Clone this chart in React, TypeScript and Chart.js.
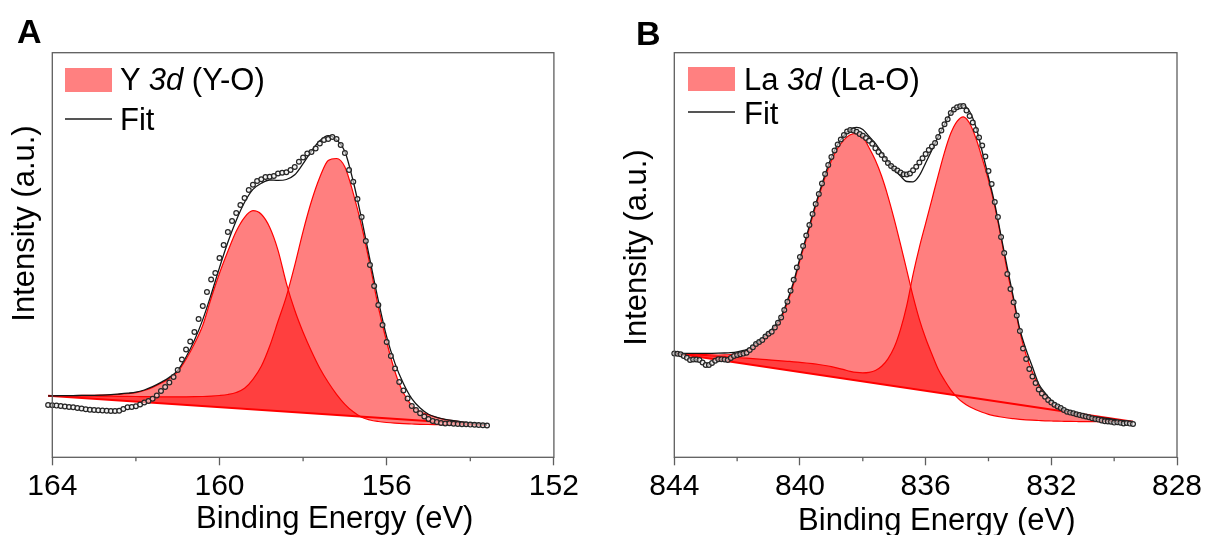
import React, { useEffect, useRef } from 'react';
import { Chart, registerables } from 'chart.js';

Chart.register(...registerables);

const FONT = "'Liberation Sans', Arial, Helvetica, sans-serif";

// ---------------- Panel A : Y 3d ----------------
const A_dataBE = [164.1,164.0,163.9,163.8,163.7,163.6,163.5,163.4,163.3,163.2,
163.1,163.0,162.9,162.8,162.7,162.6,162.5,162.4,162.3,162.2,
162.1,162.0,161.9,161.8,161.7,161.6,161.5,161.4,161.3,161.2,
161.1,161.0,160.9,160.8,160.7,160.6,160.5,160.4,160.3,160.2,
160.1,160.0,159.9,159.8,159.7,159.6,159.5,159.4,159.3,159.2,
159.1,159.0,158.9,158.8,158.7,158.6,158.5,158.4,158.3,158.2,
158.1,158.0,157.9,157.8,157.7,157.6,157.5,157.4,157.3,157.2,
157.1,157.0,156.9,156.8,156.7,156.6,156.5,156.4,156.3,156.2,
156.1,156.0,155.9,155.8,155.7,155.6,155.5,155.4,155.3,155.2,
155.1,155.0,154.9,154.8,154.7,154.6,154.5,154.4,154.3,154.2,
154.1,154.0,153.9,153.8,153.7,153.6];
const A_dataCounts = [52.3,52.1,51.7,51.3,50.8,50.3,50.0,49.3,48.8,48.1,
47.6,47.3,47.0,46.8,46.6,46.3,46.3,46.6,48.3,50.0,
50.3,51.1,52.8,54.8,56.3,58.6,61.8,66.3,70.3,74.8,
80.3,87.3,97.8,107.8,115.8,125.3,138.3,151.3,165.3,177.8,
184.3,199.3,212.3,225.3,236.3,244.3,252.3,259.3,267.3,272.6,
276.3,278.0,280.3,280.6,281.3,283.8,284.5,285.0,287.3,290.3,
295.5,299.8,303.8,305.3,308.8,313.8,317.3,318.3,320.3,318.3,
312.3,304.3,287.3,275.6,258.3,240.3,216.3,192.3,171.3,152.3,
132.3,115.3,101.3,88.8,75.3,66.8,58.8,51.3,47.3,44.0,
40.8,38.3,36.3,35.3,34.3,33.8,34.0,33.5,33.3,33.1,
33.0,32.7,32.5,32.3,32.1,31.8];

const A_curveBE = [164.1,164.0,163.8,163.6,163.4,163.2,163.0,162.8,162.6,162.4,
162.2,162.0,161.8,161.6,161.4,161.2,161.0,160.8,160.6,160.4,
160.2,160.0,159.8,159.6,159.4,159.2,159.0,158.8,158.6,158.4,
158.2,158.0,157.8,157.6,157.4,157.2,157.0,156.8,156.6,156.4,
156.2,156.0,155.8,155.6,155.4,155.2,155.0,154.8,154.6,154.4,
154.2,154.0,153.8,153.6];
const A_fit = [61.5,61.5,61.6,61.7,61.8,61.9,62.0,62.2,62.6,63.3,
64.1,65.1,67.3,70.6,74.9,79.9,86.9,100.3,117.0,137.7,
162.8,189.7,215.0,236.8,255.0,267.9,274.0,277.3,276.9,277.8,
282.5,293.7,306.3,316.5,321.6,317.5,305.8,275.8,238.3,197.3,
156.7,120.4,93.7,73.8,58.6,49.2,43.0,40.0,38.0,36.6,
35.4,34.4,33.5,32.6];
const A_peak1 = [61.5,61.5,61.6,61.7,61.8,61.9,62.0,62.2,62.4,62.9,
63.6,64.7,66.8,69.9,74.0,78.8,85.5,98.0,113.5,132.0,
159.0,184.0,206.0,226.0,240.0,246.6,243.0,230.0,207.0,174.0,
147.0,125.0,106.0,89.0,75.0,63.0,53.0,45.5,40.0,37.3,
35.8,34.8,34.1,33.6,33.3,33.0,32.8,32.7,32.6,32.5,
32.4,32.4,32.3,32.3];
const A_peak2 = [61.5,61.5,61.5,61.4,61.4,61.3,61.3,61.2,61.1,61.0,
60.9,60.8,60.7,60.6,60.5,60.5,60.5,60.5,60.6,60.8,
61.2,61.8,62.8,64.8,69.0,78.0,91.0,111.0,136.0,161.0,
192.0,226.0,256.0,280.0,296.8,298.8,290.3,264.0,231.3,192.3,
150.3,115.3,85.3,64.3,51.8,45.8,42.5,39.8,37.8,36.4,
35.2,34.2,33.4,32.5];
const A_bgBE = [164.1, 153.6];
const A_bg = [61.5, 32.3];
const A_majorStep = 4;
const A_minorTicks = [162, 158, 154];

// ---------------- Panel B : La 3d ----------------
const B_dataBE = [844.0,843.9,843.8,843.7,843.6,843.5,843.4,843.3,843.2,843.1,
843.0,842.9,842.8,842.7,842.6,842.5,842.4,842.3,842.2,842.1,
842.0,841.9,841.8,841.7,841.6,841.5,841.4,841.3,841.2,841.1,
841.0,840.9,840.8,840.7,840.6,840.5,840.4,840.3,840.2,840.1,
840.0,839.9,839.8,839.7,839.6,839.5,839.4,839.3,839.2,839.1,
839.0,838.9,838.8,838.7,838.6,838.5,838.4,838.3,838.2,838.1,
838.0,837.9,837.8,837.7,837.6,837.5,837.4,837.3,837.2,837.1,
837.0,836.9,836.8,836.7,836.6,836.5,836.4,836.3,836.2,836.1,
836.0,835.9,835.8,835.7,835.6,835.5,835.4,835.3,835.2,835.1,
835.0,834.9,834.8,834.7,834.6,834.5,834.4,834.3,834.2,834.1,
834.0,833.9,833.8,833.7,833.6,833.5,833.4,833.3,833.2,833.1,
833.0,832.9,832.8,832.7,832.6,832.5,832.4,832.3,832.2,832.1,
832.0,831.9,831.8,831.7,831.6,831.5,831.4,831.3,831.2,831.1,
831.0,830.9,830.8,830.7,830.6,830.5,830.4,830.3,830.2,830.1,
830.0,829.9,829.8,829.7,829.6,829.5,829.4];
const B_dataCounts = [103.8,103.5,103.1,101.3,99.5,97.3,97.8,97.8,97.3,94.8,
92.3,92.3,94.3,96.5,98.0,98.0,97.8,97.3,99.3,101.3,
102.3,103.0,103.7,104.6,107.3,110.0,113.3,115.3,117.3,120.8,
123.6,125.6,129.8,134.5,139.8,147.3,155.5,166.5,177.5,189.8,
200.3,211.3,221.8,232.3,243.3,253.3,263.3,273.8,283.3,292.3,
300.3,306.8,312.8,317.8,322.3,325.8,327.3,326.8,325.6,323.3,
321.5,319.3,316.5,313.5,309.0,305.3,302.3,298.3,294.3,291.3,
288.8,286.8,284.8,283.0,282.8,283.8,287.0,290.5,294.8,299.0,
303.3,307.3,310.8,314.3,320.3,326.8,333.0,338.0,344.3,347.8,
350.0,351.0,351.3,346.8,341.3,334.8,327.3,319.8,311.8,300.8,
286.3,273.3,255.3,240.3,220.3,204.3,183.3,168.3,155.0,141.8,
126.3,108.8,98.3,88.3,80.8,74.3,67.8,63.8,60.5,57.3,
54.7,52.5,50.9,49.3,47.3,45.5,44.7,44.0,43.1,42.3,
41.5,40.8,40.0,39.1,38.3,37.7,36.9,36.0,35.8,35.5,
34.7,35.1,34.5,33.8,34.3,33.7,33.3];

const B_curveBE = [844.0,843.8,843.6,843.4,843.2,843.0,842.8,842.6,842.4,842.2,
842.0,841.8,841.6,841.4,841.2,841.0,840.8,840.6,840.4,840.2,
840.0,839.8,839.6,839.4,839.2,839.0,838.8,838.6,838.4,838.2,
838.0,837.8,837.6,837.4,837.2,837.0,836.8,836.6,836.4,836.2,
836.0,835.8,835.6,835.4,835.2,835.0,834.8,834.6,834.4,834.2,
834.0,833.8,833.6,833.4,833.2,833.0,832.8,832.6,832.4,832.2,
832.0,831.8,831.6,831.4,831.2,831.0,830.8,830.6,830.4,830.2,
830.0,829.8,829.6,829.4];
const B_fit = [104.0,104.0,104.0,104.0,104.0,104.0,104.0,104.1,104.3,104.7,
105.5,106.9,109.0,114.5,119.0,124.9,131.3,140.8,156.8,175.8,
199.3,220.3,242.8,263.3,282.8,300.1,312.8,321.8,328.0,329.9,
327.8,320.8,314.0,304.8,295.8,287.8,281.3,275.8,275.5,281.8,
294.3,307.3,320.8,332.8,344.3,349.8,352.0,345.8,330.3,305.8,
280.3,253.3,221.3,189.5,158.8,127.8,107.3,90.3,73.3,64.3,
56.8,51.8,47.3,45.3,43.3,41.8,41.0,40.3,39.6,38.8,
37.8,36.8,36.2,35.8];
const B_peak1 = [104.0,103.8,103.5,103.2,102.9,102.6,102.4,102.3,102.4,102.8,
103.6,105.0,107.2,112.3,117.0,122.8,129.3,138.8,154.5,173.5,
197.0,218.0,240.5,261.0,280.0,296.5,309.0,317.5,322.5,324.0,
320.5,309.5,297.0,281.0,261.0,238.0,213.0,187.0,161.0,138.0,
119.0,103.0,88.0,77.0,67.5,60.0,54.5,50.5,47.5,45.0,
43.0,41.5,40.3,39.3,38.6,38.0,37.5,37.1,36.8,36.5,
36.3,36.1,36.0,35.9,35.8,35.7,35.7,35.6,35.6,35.6,
35.6,35.6,35.6,35.6];
const B_peak2 = [104.0,103.6,103.1,102.6,102.1,101.7,101.3,100.9,100.6,100.2,
99.8,99.3,98.9,98.4,98.0,97.5,97.0,96.5,96.0,95.5,
94.9,94.3,93.6,92.8,91.8,90.6,89.2,87.6,86.0,84.9,
84.5,85.0,86.8,91.0,98.5,110.0,128.0,152.0,183.0,210.0,
234.0,258.0,282.0,305.0,324.0,336.0,340.5,334.0,319.0,299.0,
277.0,251.0,219.5,185.5,156.5,125.5,102.0,85.0,71.0,62.0,
54.0,49.5,46.5,44.0,42.0,40.7,39.6,38.6,37.6,36.8,
36.2,35.9,35.7,35.6];
const B_bgBE = [844.0, 829.4];
const B_bg = [104.0, 35.6];
const B_majorStep = 4;
const B_minorTicks = [842, 838, 834, 830];

const Y_MAX = 404.6;

function pts(xs: number[], ys: number[]) {
  return xs.map((x, i) => ({ x, y: ys[i] }));
}

const framePlugin = {
  id: 'frame',
  afterDraw(chart: any, _args: any, opts: any) {
    const { ctx, chartArea: a, scales } = chart;
    ctx.save();
    ctx.strokeStyle = opts.color;
    ctx.lineWidth = opts.width;
    ctx.strokeRect(a.left, a.top, a.right - a.left, a.bottom - a.top);
    ctx.beginPath();
    for (const v of opts.minor as number[]) {
      const px = scales.x.getPixelForValue(v);
      ctx.moveTo(px, a.bottom);
      ctx.lineTo(px, a.bottom + opts.minorLen);
    }
    ctx.stroke();
    ctx.restore();
  },
};

type PanelData = {
  dataBE: number[]; dataCounts: number[]; curveBE: number[];
  fit: number[]; peak1: number[]; peak2: number[];
  bgBE: number[]; bg: number[];
  xmin: number; xmax: number; step: number; minor: number[];
  padding: { left: number; right: number; top: number; bottom: number };
};

function makeConfig(d: PanelData): any {
  const peakStyle = {
    borderColor: '#ff0000',
    borderWidth: 1.2,
    backgroundColor: 'rgba(255,0,0,0.5)',
    pointRadius: 0,
    cubicInterpolationMode: 'monotone',
    fill: 2,
    order: 3,
    clip: 8,
  };
  return {
    type: 'line',
    data: {
      datasets: [
        {
          label: 'data',
          data: pts(d.dataBE, d.dataCounts),
          showLine: false,
          pointRadius: 2.4,
          pointBorderWidth: 1.2,
          pointBorderColor: '#262626',
          pointBackgroundColor: 'rgba(235,235,235,0.6)',
          order: 0,
          clip: 8,
        },
        {
          label: 'Fit',
          data: pts(d.curveBE, d.fit),
          borderColor: '#151515',
          borderWidth: 1.3,
          pointRadius: 0,
          cubicInterpolationMode: 'monotone',
          fill: false,
          order: 1,
          clip: 8,
        },
        {
          label: 'background',
          data: pts(d.bgBE, d.bg),
          borderColor: '#ff0000',
          borderWidth: 2,
          pointRadius: 0,
          fill: false,
          order: 2,
          clip: 8,
        },
        { label: 'peak 1', data: pts(d.curveBE, d.peak1), ...peakStyle },
        { label: 'peak 2', data: pts(d.curveBE, d.peak2), ...peakStyle },
      ],
    },
    options: {
      responsive: false,
      animation: false,
      events: [],
      layout: { padding: d.padding },
      plugins: {
        legend: { display: false },
        tooltip: { enabled: false },
        frame: { color: '#5e5e5e', width: 1.3, minor: d.minor, minorLen: 4 },
      },
      scales: {
        x: {
          type: 'linear',
          min: d.xmin,
          max: d.xmax,
          reverse: true,
          afterFit: (s: any) => { s.height = 40; },
          border: { display: false },
          grid: {
            drawOnChartArea: false,
            drawTicks: true,
            tickLength: 8,
            tickColor: '#5e5e5e',
            tickWidth: 1.3,
          },
          ticks: {
            stepSize: d.step,
            autoSkip: false,
            maxRotation: 0,
            padding: 3,
            color: '#000000',
            font: { family: FONT, size: 30 },
          },
        },
        y: { display: false, min: 0, max: Y_MAX },
      },
    },
    plugins: [framePlugin],
  };
}

function ChartCanvas({ left, width, data }: { left: number; width: number; data: PanelData }) {
  const ref = useRef<HTMLCanvasElement>(null);
  useEffect(() => {
    const chart = new Chart(ref.current as HTMLCanvasElement, makeConfig(data));
    return () => chart.destroy();
  }, []);
  return (
    <canvas
      ref={ref}
      width={width}
      height={535}
      style={{ position: 'absolute', left, top: 0, width, height: 535, display: 'block' }}
    />
  );
}

const txt = (extra: React.CSSProperties): React.CSSProperties => ({
  position: 'absolute',
  fontFamily: FONT,
  fontSize: 31,
  lineHeight: '31px',
  whiteSpace: 'nowrap',
  color: '#000',
  ...extra,
});

function Legend({ x, y, textX, fitY, fitTextY, label }: any) {
  return (
    <>
      <div style={{ position: 'absolute', left: x, top: y, width: 47, height: 24, background: '#ff8080' }} />
      <div style={txt({ left: textX, top: y - 3.5 })}>{label}</div>
      <div style={{ position: 'absolute', left: x, top: fitY - 1, width: 47, height: 2, background: '#555555' }} />
      <div style={txt({ left: textX, top: fitTextY })}>Fit</div>
    </>
  );
}

function YTitle({ cx, cy }: { cx: number; cy: number }) {
  return (
    <div
      style={txt({
        left: cx - 150,
        top: cy - 15.5,
        width: 300,
        height: 31,
        textAlign: 'center',
        transform: 'rotate(-90deg)',
      })}
    >
      Intensity (a.u.)
    </div>
  );
}

function XTitle({ cx, top }: { cx: number; top: number }) {
  return (
    <div style={txt({ left: cx - 200, top, width: 400, textAlign: 'center' })}>
      Binding Energy (eV)
    </div>
  );
}

const panelA: PanelData = {
  dataBE: A_dataBE, dataCounts: A_dataCounts, curveBE: A_curveBE,
  fit: A_fit, peak1: A_peak1, peak2: A_peak2, bgBE: A_bgBE, bg: A_bg,
  xmin: 152, xmax: 164, step: A_majorStep, minor: A_minorTicks,
  padding: { left: 52.3, right: 46.1, top: 52.7, bottom: 37.7 },
};
const panelB: PanelData = {
  dataBE: B_dataBE, dataCounts: B_dataCounts, curveBE: B_curveBE,
  fit: B_fit, peak1: B_peak1, peak2: B_peak2, bgBE: B_bgBE, bg: B_bg,
  xmin: 828, xmax: 844, step: B_majorStep, minor: B_minorTicks,
  padding: { left: 74.3, right: 30, top: 52.7, bottom: 37.7 },
};

export default function App() {
  return (
    <div style={{ position: 'absolute', left: 0, top: 0, width: 1207, height: 535, background: '#fff', overflow: 'hidden' }}>
      <ChartCanvas left={0} width={600} data={panelA} />
      <ChartCanvas left={600} width={607} data={panelB} />

      <div style={txt({ left: 17, top: 14, fontSize: 34, lineHeight: '34px', fontWeight: 'bold' })}>A</div>
      <Legend x={65} y={67.5} textX={120} fitY={118.7} fitTextY={104.3}
        label={<>Y <i>3d</i> (Y-O)</>} />
      <YTitle cx={22.8} cy={223} />
      <XTitle cx={334.7} top={502} />

      <div style={txt({ left: 636, top: 16, fontSize: 34, lineHeight: '34px', fontWeight: 'bold' })}>B</div>
      <Legend x={688} y={67.4} textX={744} fitY={112.4} fitTextY={98.2}
        label={<>La <i>3d</i> (La-O)</>} />
      <YTitle cx={635} cy={247} />
      <XTitle cx={936.8} top={503.5} />
    </div>
  );
}
